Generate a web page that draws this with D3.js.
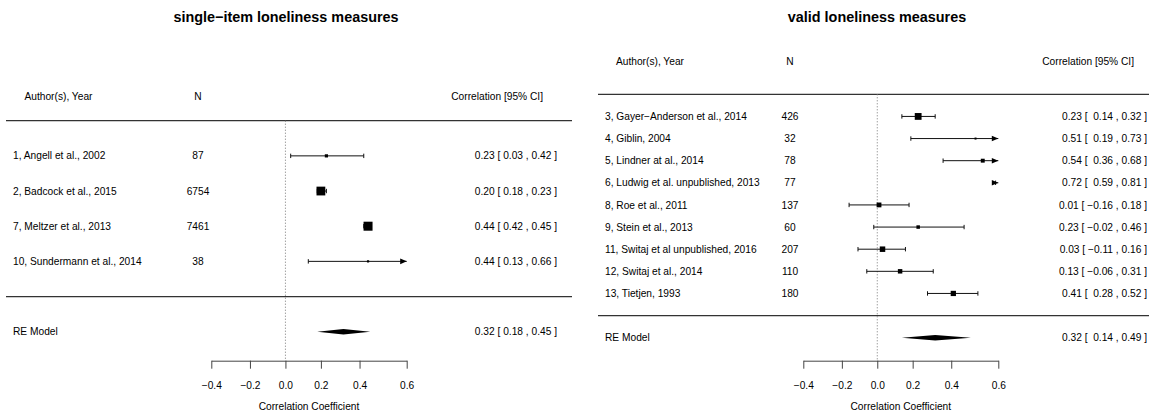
<!DOCTYPE html>
<html>
<head>
<meta charset="utf-8">
<script src="https://cdn.jsdelivr.net/npm/d3@7"></script>
<style>
    body { margin: 0; background: #fff; }
    svg { display: block; font-family: "Liberation Sans", Arial, Helvetica, sans-serif; }
    text { fill: #000; }
</style>
</head>
<body>
<div id="chart"></div>
<script>
// single-item loneliness measures
const singleStudies = ['1, Angell et al., 2002', '2, Badcock et al., 2015', '7, Meltzer et al., 2013', '10, Sundermann et al., 2014'];
const singleN = [87, 6754, 7461, 38];
const singleR = [0.23, 0.20, 0.44, 0.44];
const singleLo = [0.03, 0.18, 0.42, 0.13];
const singleHi = [0.42, 0.23, 0.45, 0.66];
const singleRE = [0.32, 0.18, 0.45];

// valid loneliness measures
const validStudies = ['3, Gayer\u2212Anderson et al., 2014', '4, Giblin, 2004', '5, Lindner at al., 2014',
    '6, Ludwig et al. unpublished, 2013', '8, Roe et al., 2011', '9, Stein et al., 2013',
    '11, Switaj et al unpublished, 2016', '12, Switaj et al., 2014', '13, Tietjen, 1993'];
const validN = [426, 32, 78, 77, 137, 60, 207, 110, 180];
const validR = [0.23, 0.51, 0.54, 0.72, 0.01, 0.23, 0.03, 0.13, 0.41];
const validLo = [0.14, 0.19, 0.36, 0.59, -0.16, -0.02, -0.11, -0.06, 0.28];
const validHi = [0.32, 0.73, 0.68, 0.81, 0.18, 0.46, 0.16, 0.31, 0.52];
const validRE = [0.32, 0.14, 0.49];

const tickValues = [-0.4, -0.2, 0.0, 0.2, 0.4, 0.6];
const axisLimits = [-0.4, 0.6];

const W = 1149, H = 414;
const svg = d3.select('#chart').append('svg')
    .attr('width', W)
    .attr('height', H);

const f2 = d3.format('.2f');
const minus = s => s.replace('-', '\u2212');

function drawPanel(cfg) {
    const g = svg.append('g');
    const k = cfg.studies.length;

    // x on Fisher z scale, labelled in r
    const x = d3.scaleLinear()
        .domain(axisLimits.map(Math.atanh))
        .range(cfg.xRange);
    const y = d3.scaleLinear()
        .domain([k + 1, -1])
        .range(cfg.yRange);

    const zLo = Math.atanh(axisLimits[0]), zHi = Math.atanh(axisLimits[1]);

    // square size from study precision
    const prec = cfg.n.map(n => Math.sqrt(n - 3));
    const pmin = d3.min(prec), pmax = d3.max(prec);
    const size = d3.scalePow().exponent(0.6).domain([0, 1]).range(cfg.sizeRange);

    const rows = cfg.studies.map((s, i) => ({
        label: s, n: cfg.n[i], r: cfg.r[i], lo: cfg.lo[i], hi: cfg.hi[i],
        row: k - i, w: (prec[i] - pmin) / (pmax - pmin)
    }));

    const anyNeg = cfg.lo.concat([cfg.re[1]]).some(v => v < 0);
    const anno = (r, lo, hi) => {
        const los = minus(f2(lo));
        return `${minus(f2(r))} [ ${anyNeg && lo >= 0 ? ' ' : ''}${los} , ${minus(f2(hi))} ]`;
    };

    // title
    g.append('text')
        .attr('x', cfg.titleX)
        .attr('y', 17)
        .attr('dy', '0.35em')
        .attr('text-anchor', 'middle')
        .style('font-size', '14.4px')
        .style('font-weight', 'bold')
        .text(cfg.title);

    // headers
    const hdr = [
        {t: 'Author(s), Year', x: cfg.headerLabelX, a: 'start'},
        {t: 'N', x: cfg.nX, a: 'middle'},
        {t: 'Correlation [95% CI]', x: cfg.headerAnnoX, a: 'end'}
    ];
    g.selectAll('.hdr').data(hdr).enter().append('text')
        .attr('x', d => d.x)
        .attr('y', cfg.headerY)
        .attr('dy', '0.35em')
        .attr('text-anchor', d => d.a)
        .style('font-size', '10.2px')
        .text(d => d.t);

    // horizontal rules
    [k + 1, 0].forEach(v => {
        g.append('line')
            .attr('x1', cfg.ruleX[0]).attr('x2', cfg.ruleX[1])
            .attr('y1', y(v)).attr('y2', y(v))
            .attr('stroke', '#333')
            .attr('stroke-width', 1.2);
    });

    // reference line at 0
    g.append('line')
        .attr('x1', x(0)).attr('x2', x(0))
        .attr('y1', y(k + 1)).attr('y2', cfg.axisY)
        .attr('stroke', '#777')
        .attr('stroke-dasharray', '1,2');

    // study rows
    const row = g.selectAll('.row').data(rows).enter().append('g')
        .attr('class', 'row')
        .attr('transform', d => `translate(0,${y(d.row)})`);

    row.append('text')
        .attr('x', cfg.labelX)
        .attr('dy', '0.35em')
        .style('font-size', '10.2px')
        .text(d => d.label);

    row.append('text')
        .attr('x', cfg.nX)
        .attr('dy', '0.35em')
        .attr('text-anchor', 'middle')
        .style('font-size', '10.2px')
        .text(d => d.n);

    row.append('text')
        .attr('x', cfg.annoX)
        .attr('dy', '0.35em')
        .attr('text-anchor', 'end')
        .style('font-size', '10.2px')
        .style('white-space', 'pre')
        .text(d => anno(d.r, d.lo, d.hi));

    // CI lines clipped to the axis limits
    row.append('line')
        .attr('x1', d => x(Math.max(zLo, Math.atanh(d.lo))))
        .attr('x2', d => x(Math.min(zHi, Math.atanh(d.hi))))
        .attr('stroke', '#111')
        .attr('stroke-width', 1);

    // end caps (or arrows when clipped)
    row.each(function(d) {
        const sel = d3.select(this);
        const ends = [
            {z: Math.atanh(d.lo), clip: Math.atanh(d.lo) < zLo, lim: zLo, dir: -1},
            {z: Math.atanh(d.hi), clip: Math.atanh(d.hi) > zHi, lim: zHi, dir: 1}
        ];
        ends.forEach(e => {
            if (e.clip) {
                const tip = x(e.lim);
                sel.append('path')
                    .attr('d', `M${tip},0L${tip - e.dir * 6.5},-2.8L${tip - e.dir * 6.5},2.8Z`)
                    .attr('fill', '#000');
            } else {
                sel.append('line')
                    .attr('x1', x(e.z)).attr('x2', x(e.z))
                    .attr('y1', -2.2).attr('y2', 2.2)
                    .attr('stroke', '#111');
            }
        });
    });

    // point estimates (only inside limits)
    row.filter(d => Math.atanh(d.r) <= zHi && Math.atanh(d.r) >= zLo)
        .append('rect')
        .attr('x', d => x(Math.atanh(d.r)) - size(d.w) / 2)
        .attr('y', d => -size(d.w) / 2)
        .attr('width', d => size(d.w))
        .attr('height', d => size(d.w))
        .attr('fill', '#000');

    // RE model
    const reY = y(-1);
    g.append('text')
        .attr('x', cfg.labelX)
        .attr('y', reY)
        .attr('dy', '0.35em')
        .style('font-size', '10.2px')
        .text('RE Model');

    g.append('text')
        .attr('x', cfg.annoX)
        .attr('y', reY)
        .attr('dy', '0.35em')
        .attr('text-anchor', 'end')
        .style('font-size', '10.2px')
        .style('white-space', 'pre')
        .text(anno(cfg.re[0], cfg.re[1], cfg.re[2]));

    const dz = cfg.re.map(Math.atanh);
    g.append('path')
        .attr('d', `M${x(dz[1])},${reY}L${x(dz[0])},${reY - 2.8}L${x(dz[2])},${reY}L${x(dz[0])},${reY + 2.8}Z`)
        .attr('fill', '#000');

    // axis
    const axis = g.append('g')
        .attr('transform', `translate(0,${cfg.axisY})`)
        .call(d3.axisBottom(x)
            .tickValues(tickValues.map(Math.atanh))
            .tickFormat(d => d3.format('.1f')(Math.tanh(d)))
            .tickSize(8)
            .tickSizeOuter(0));
    axis.select('.domain').attr('stroke', '#444');
    axis.selectAll('.tick line').attr('stroke', '#444');
    axis.selectAll('.tick text')
        .attr('y', 24.5)
        .attr('dy', '0.35em')
        .style('font-size', '10.2px')
        .style('font-family', '"Liberation Sans", Arial, Helvetica, sans-serif')
        .attr('fill', '#000');

    g.append('text')
        .attr('x', d3.mean(x.range()))
        .attr('y', cfg.axisY + 46)
        .attr('dy', '0.35em')
        .attr('text-anchor', 'middle')
        .style('font-size', '10.2px')
        .text('Correlation Coefficient');
}

drawPanel({
    title: 'single\u2212item loneliness measures',
    studies: singleStudies, n: singleN, r: singleR, lo: singleLo, hi: singleHi, re: singleRE,
    xRange: [211.3, 406.7], yRange: [120.7, 331.7],
    titleX: 286, headerY: 96, headerLabelX: 24.5, labelX: 13, nX: 198,
    annoX: 557, headerAnnoX: 543, ruleX: [6, 572], axisY: 360.7,
    sizeRange: [2.2, 9]
});

drawPanel({
    title: 'valid loneliness measures',
    studies: validStudies, n: validN, r: validR, lo: validLo, hi: validHi, re: validRE,
    xRange: [803.3, 998.3], yRange: [94.3, 337.7],
    titleX: 877, headerY: 61, headerLabelX: 616, labelX: 605, nX: 790,
    annoX: 1147, headerAnnoX: 1134, ruleX: [598, 1149], axisY: 360.7,
    sizeRange: [2, 6.8]
});
</script>
</body>
</html>
